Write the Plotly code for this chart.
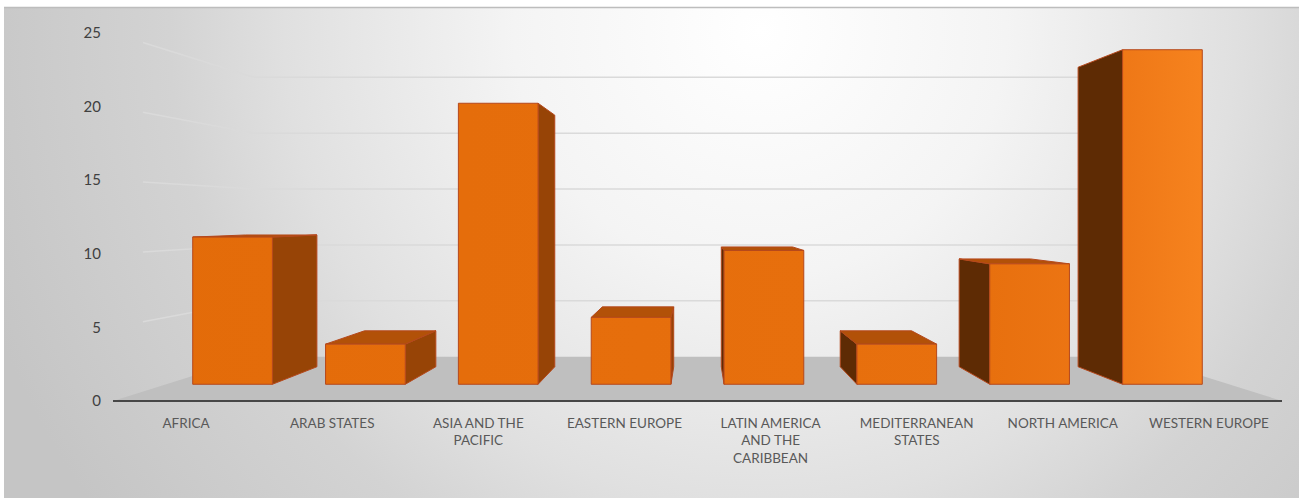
import base64
import plotly.graph_objects as go

# ---------------- data ----------------
categories = ["AFRICA", "ARAB STATES", "ASIA AND THE PACIFIC", "EASTERN EUROPE",
              "LATIN AMERICA AND THE CARIBBEAN", "MEDITERRANEAN STATES",
              "NORTH AMERICA", "WESTERN EUROPE"]
tick_labels = ["AFRICA", "ARAB STATES", "ASIA AND THE<br>PACIFIC", "EASTERN EUROPE",
               "LATIN AMERICA<br>AND THE<br>CARIBBEAN", "MEDITERRANEAN<br>STATES",
               "NORTH AMERICA", "WESTERN EUROPE"]
values = [11, 3, 21, 5, 10, 3, 9, 25]
y_ticks = [0, 5, 10, 15, 20, 25]

# ---------------- 3D look (perspective projection) ----------------
N = len(categories)
YMAX = y_ticks[-1]
XV, YV = N / 2, YMAX / 2          # vanishing point (axis units)
K = 0.3175                        # perspective strength over the floor depth
Z_FRONT, Z_BACK = 0.315, 0.72     # bar depth (0 = front edge, 1 = back wall)
Z_WALL_START = 0.17               # where side-wall gridlines become visible
HALF = 0.30                       # half bar width (category units)

FRONT_SCALE = [[0, "#E36B09"], [0.75, "#E8700E"], [0.86, "#EE7716"],
               [0.94, "#F7841F"], [1, "#FA8A24"]]
TOP_COL = "#B25108"
RSIDE_COL = "#974406"
LSIDE_COL = "#5E2B04"
EDGE_COL = "#B5481C"
FLOOR_COL = "#BFBFBF"
GRID_COL = "#DADADA"


def proj(X, Y, z):
    s = 1.0 / (1.0 + K * z)
    return XV + (X - XV) * s, YV + (Y - YV) * s


def poly(pts):
    xs, ys = [], []
    for p in pts + [pts[0]]:
        x, y = proj(*p)
        xs.append(x)
        ys.append(y)
    return xs, ys


fig = go.Figure()

# wall gridlines (back wall + left side wall)
for t in y_ticks[1:]:
    bx, by = zip(proj(0, t, 1), proj(N, t, 1))
    sx, sy = zip(proj(0, t, Z_WALL_START), proj(0, t, 1))
    for xs, ys in ((bx, by), (sx, sy)):
        fig.add_trace(go.Scatter(x=list(xs), y=list(ys), mode="lines",
                                 line=dict(color=GRID_COL, width=1.5),
                                 hoverinfo="skip", showlegend=False))

# floor
fx, fy = poly([(0, 0, 0), (N, 0, 0), (N, 0, 1), (0, 0, 1)])
fig.add_trace(go.Scatter(x=fx, y=fy, mode="lines", fill="toself",
                         fillcolor=FLOOR_COL, line=dict(width=0),
                         hoverinfo="skip", showlegend=False))

# bars
for i, v in enumerate(values):
    xl, xr = i + 0.5 - HALF, i + 0.5 + HALF
    faces = []
    if xr < XV:
        faces.append(([(xr, 0, Z_FRONT), (xr, 0, Z_BACK), (xr, v, Z_BACK), (xr, v, Z_FRONT)],
                      dict(fillcolor=RSIDE_COL)))
    if xl > XV:
        faces.append(([(xl, 0, Z_FRONT), (xl, 0, Z_BACK), (xl, v, Z_BACK), (xl, v, Z_FRONT)],
                      dict(fillcolor=LSIDE_COL)))
    if v < YV:
        faces.append(([(xl, v, Z_FRONT), (xr, v, Z_FRONT), (xr, v, Z_BACK), (xl, v, Z_BACK)],
                      dict(fillcolor=TOP_COL)))
    faces.append(([(xl, 0, Z_FRONT), (xr, 0, Z_FRONT), (xr, v, Z_FRONT), (xl, v, Z_FRONT)],
                  dict(fillgradient=dict(type="horizontal", colorscale=FRONT_SCALE,
                                         start=0, stop=N))))
    for pts, style in faces:
        px_, py_ = poly(pts)
        fig.add_trace(go.Scatter(x=px_, y=py_, mode="lines", fill="toself",
                                 line=dict(color=EDGE_COL, width=1),
                                 name=categories[i], hoverinfo="skip",
                                 showlegend=False, **style))

# front axis line (floor front edge)
fig.add_trace(go.Scatter(x=[0, N], y=[0, 0], mode="lines",
                         line=dict(color="#474747", width=2.2),
                         hoverinfo="skip", showlegend=False))

# ---------------- background (chart area gradient) ----------------
W, H = 1299, 498
svg = f'''<svg xmlns="http://www.w3.org/2000/svg" width="{W}" height="{H}" viewBox="0 0 {W} {H}" preserveAspectRatio="none">
<defs><radialGradient id="g" gradientUnits="userSpaceOnUse" cx="760" cy="30" r="820">
<stop offset="0" stop-color="#ffffff"/>
<stop offset="0.3" stop-color="#f4f4f4"/>
<stop offset="0.58" stop-color="#e0e0e0"/>
<stop offset="0.72" stop-color="#d3d3d3"/>
<stop offset="1" stop-color="#c5c5c5"/>
</radialGradient></defs>
<rect x="0" y="0" width="{W}" height="{H}" fill="#ffffff"/>
<rect x="4" y="7" width="{W-4}" height="{H-7}" fill="url(#g)"/>
<line x1="4" y1="7.5" x2="{W}" y2="7.5" stroke="#bdbdbd" stroke-width="1.5"/>
</svg>'''
src = "data:image/svg+xml;base64," + base64.b64encode(svg.encode()).decode()

# pixel geometry of the front plane
X0_PX, XN_PX = 113, 1282          # front edge of floor
Y0_PX, YT_PX = 401, 33            # value 0 and value YMAX on the front plane
ppx = (XN_PX - X0_PX) / N
ppy = (Y0_PX - YT_PX) / YMAX
x_range = [-X0_PX / ppx, (W - X0_PX) / ppx]
y_range = [-(H - Y0_PX) / ppy, Y0_PX / ppy]

fig.update_layout(
    width=W, height=H, autosize=False,
    margin=dict(l=0, r=0, t=0, b=0),
    paper_bgcolor="white", plot_bgcolor="rgba(0,0,0,0)",
    showlegend=False,
    images=[dict(source=src, xref="paper", yref="paper", x=0, y=1,
                 sizex=1, sizey=1, xanchor="left", yanchor="top",
                 sizing="stretch", layer="below")],
    xaxis=dict(range=x_range, domain=[0, 1], anchor="free",
               position=(H - Y0_PX) / H,
               tickmode="array", tickvals=[i + 0.5 for i in range(N)],
               ticktext=tick_labels, ticks="", showgrid=False, zeroline=False,
               showline=False, ticklabelstandoff=12,
               tickfont=dict(family="Lato, 'Open Sans', sans-serif", size=13.5,
                             color="#595959")),
    yaxis=dict(range=y_range, domain=[0, 1], anchor="free",
               position=X0_PX / W,
               tickmode="array", tickvals=y_ticks,
               ticktext=[str(t) for t in y_ticks], ticks="", showgrid=False,
               zeroline=False, showline=False, ticklabelstandoff=12,
               tickfont=dict(family="Lato, 'Open Sans', sans-serif", size=15,
                             color="#404040")),
)

fig.write_html("out.html")
